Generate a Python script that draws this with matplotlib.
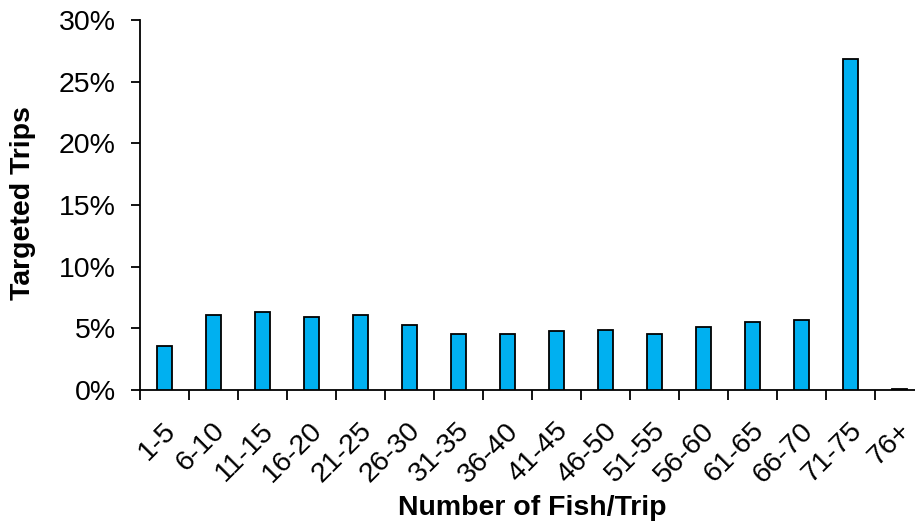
import matplotlib
matplotlib.use("Agg")
import matplotlib.pyplot as plt
import matplotlib.transforms as mtransforms
import numpy as np
from matplotlib.ticker import FuncFormatter, FixedLocator

categories = ["1-5", "6-10", "11-15", "16-20", "21-25", "26-30", "31-35", "36-40",
              "41-45", "46-50", "51-55", "56-60", "61-65", "66-70", "71-75", "76+"]
values = [3.6, 6.05, 6.3, 5.95, 6.05, 5.3, 4.55, 4.55,
          4.8, 4.85, 4.55, 5.1, 5.5, 5.7, 26.8, 0.1]
yticks = [0, 5, 10, 15, 20, 25, 30]

plt.rcParams['font.family'] = ['Liberation Sans', 'DejaVu Sans']

fig = plt.figure(figsize=(9.15, 5.29), dpi=100)
ax = fig.add_axes([140/915, 1-390/529, 784/915, 370/529])

x = np.arange(len(categories))
ax.bar(x, values, width=0.32, color='#00B0F0', edgecolor='black', linewidth=1.3, zorder=3)

ax.set_xlim(-0.5, len(categories) - 0.5)
ax.set_ylim(0, 30)
ax.set_yticks(yticks)
ax.yaxis.set_major_formatter(FuncFormatter(lambda v, p: f"{int(v)}%"))
ax.tick_params(axis='y', labelsize=20.5, direction='out', length=6.5, width=1.3, pad=11)

ax.xaxis.set_major_locator(FixedLocator(np.arange(-0.5, len(categories), 1.0)))
ax.tick_params(axis='x', which='major', direction='out', length=7, width=1.3, labelbottom=False)
ax.set_xticks(x, minor=True)
ax.set_xticklabels(categories, minor=True)
ax.tick_params(axis='x', which='minor', length=0, labelsize=20.5, pad=20)
off = mtransforms.ScaledTranslation(-2/100, 0, fig.dpi_scale_trans)
for lab in ax.get_xticklabels(minor=True):
    lab.set_rotation(45)
    lab.set_ha('right')
    lab.set_va('top')
    lab.set_rotation_mode('anchor')
    lab.set_transform(lab.get_transform() + off)

for s in ['top', 'right']:
    ax.spines[s].set_visible(False)
for s in ['left', 'bottom']:
    ax.spines[s].set_linewidth(1.3)

fig.text(23/915, 1-203/529, 'Targeted Trips', fontsize=20.5, fontweight='bold',
         ha='center', va='center', rotation=90)
fig.text(532/915, 1-508/529, 'Number of Fish/Trip', fontsize=20.5, fontweight='bold',
         ha='center', va='center')

fig.savefig('out.png', dpi=100)
